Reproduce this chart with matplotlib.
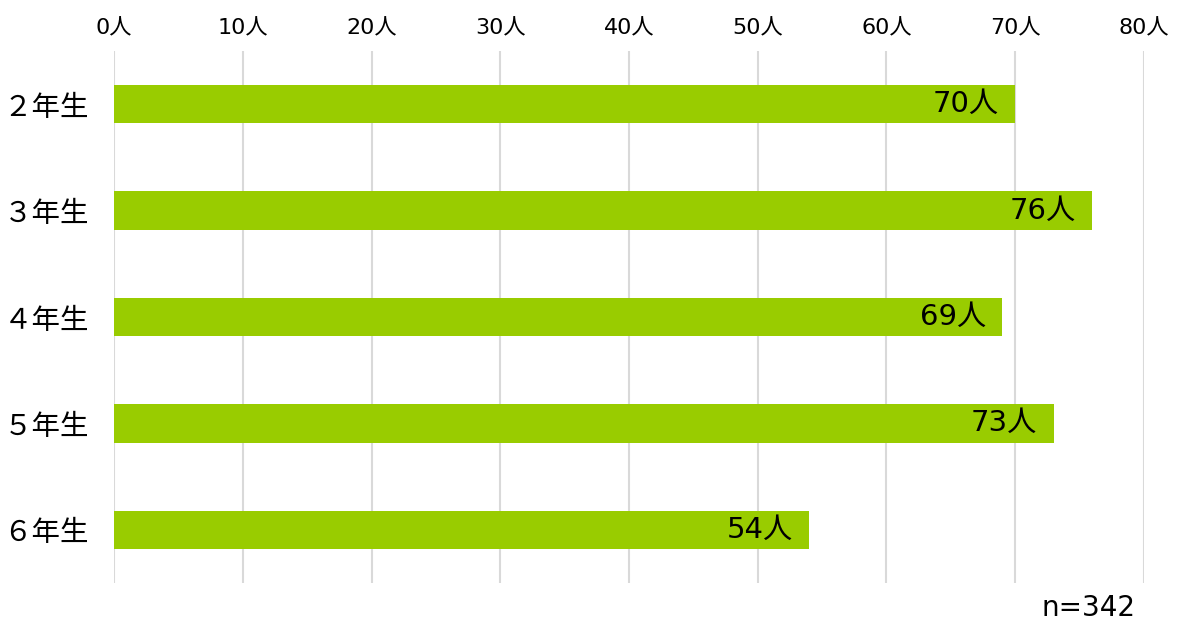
import matplotlib.pyplot as plt

plt.rcParams['font.family'] = ['DejaVu Sans', 'Noto Sans CJK JP']

grades = ['２年生', '３年生', '４年生', '５年生', '６年生']
counts = [70, 76, 69, 73, 54]
xticks = [0, 10, 20, 30, 40, 50, 60, 70, 80]
total = 342

fig = plt.figure(figsize=(11.79, 6.23), dpi=100)
ax = fig.add_axes([0.0967, 0.0642, 0.8736, 0.8539])

y = range(len(grades))
ax.barh(y, counts, height=0.36, color='#99CC00', zorder=2)

for i, v in enumerate(counts):
    ax.annotate(f'{v}人', xy=(v, i), xytext=(-12, 0), textcoords='offset points',
                ha='right', va='center', fontsize=21, color='black', zorder=3)

ax.set_xlim(0, 80)
ax.set_ylim(len(grades) - 0.5, -0.5)
ax.set_xticks(xticks)
ax.set_xticklabels([f'{t}人' for t in xticks], fontsize=16)
ax.xaxis.tick_top()
ax.set_yticks(list(y))
ax.set_yticklabels(grades, fontsize=20.5, family=['Noto Sans CJK JP'])
ax.tick_params(axis='both', length=0)
ax.tick_params(axis='y', pad=18)
ax.tick_params(axis='x', pad=9)
ax.grid(axis='x', color='#D9D9D9', linewidth=1.5, zorder=1)
for s in ax.spines.values():
    s.set_visible(False)

fig.text(1135 / 1179, 1 - 608 / 623, f'n={total}', ha='right', va='center', fontsize=20)

fig.savefig('out.png', dpi=100)
